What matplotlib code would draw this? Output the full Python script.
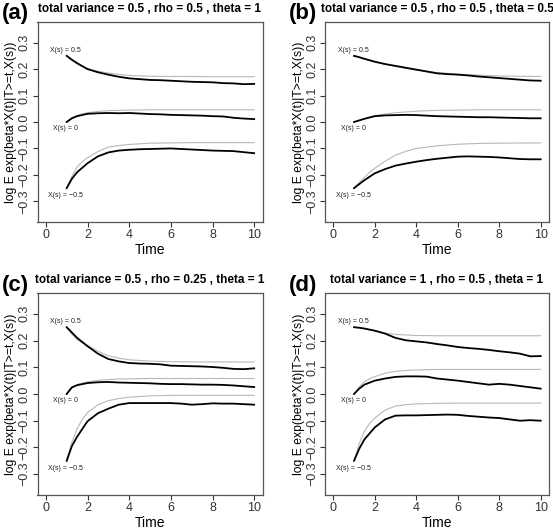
import matplotlib.pyplot as plt
import numpy as np

plt.rcParams['font.family'] = ['Liberation Sans', 'DejaVu Sans']

t_sim = [1, 1.25, 1.5, 2, 2.5, 3, 3.5, 4, 4.5, 5, 5.5, 6, 6.5, 7, 7.5, 8, 8.5, 9, 9.5, 10]
t_th = [1, 1.25, 1.5, 1.75, 2, 2.5, 3, 3.5, 4, 5, 6, 7, 8, 10]

titles = ['total variance = 0.5 , rho = 0.5 , theta = 1',
          'total variance = 0.5 , rho = 0.5 , theta = 0.5',
          'total variance = 0.5 , rho = 0.25 , theta = 1',
          'total variance = 1 , rho = 0.5 , theta = 1']
tags = ['(a)', '(b)', '(c)', '(d)']

# simulated (black) curves, X(s) = 0.5, 0, -0.5
sim_a_hi = [0.25, 0.235, 0.222, 0.200, 0.188, 0.179, 0.171, 0.165, 0.162, 0.159, 0.158, 0.156, 0.154, 0.152, 0.151, 0.150, 0.147, 0.146, 0.143, 0.144]
sim_a_mid = [0.0, 0.014, 0.022, 0.031, 0.033, 0.034, 0.033, 0.034, 0.032, 0.030, 0.029, 0.027, 0.026, 0.025, 0.024, 0.022, 0.021, 0.016, 0.013, 0.011]
sim_a_lo = [-0.25, -0.215, -0.190, -0.156, -0.130, -0.115, -0.108, -0.105, -0.103, -0.102, -0.101, -0.100, -0.102, -0.104, -0.106, -0.108, -0.109, -0.110, -0.114, -0.118]

sim_b_hi = [0.25, 0.245, 0.239, 0.228, 0.219, 0.212, 0.205, 0.198, 0.191, 0.184, 0.181, 0.179, 0.176, 0.172, 0.169, 0.166, 0.163, 0.160, 0.157, 0.156]
sim_b_mid = [0.0, 0.006, 0.012, 0.022, 0.025, 0.026, 0.027, 0.026, 0.024, 0.022, 0.021, 0.020, 0.019, 0.018, 0.018, 0.017, 0.016, 0.015, 0.014, 0.014]
sim_b_lo = [-0.25, -0.235, -0.220, -0.194, -0.178, -0.165, -0.157, -0.150, -0.144, -0.139, -0.135, -0.131, -0.130, -0.131, -0.132, -0.134, -0.137, -0.140, -0.141, -0.141]

sim_c_hi = [0.25, 0.230, 0.210, 0.179, 0.151, 0.131, 0.122, 0.116, 0.114, 0.113, 0.111, 0.106, 0.105, 0.104, 0.103, 0.101, 0.098, 0.094, 0.093, 0.096]
sim_c_mid = [0.0, 0.025, 0.033, 0.041, 0.044, 0.045, 0.043, 0.042, 0.041, 0.040, 0.038, 0.037, 0.037, 0.036, 0.035, 0.035, 0.034, 0.032, 0.029, 0.026]
sim_c_lo = [-0.25, -0.195, -0.160, -0.102, -0.072, -0.055, -0.040, -0.034, -0.034, -0.034, -0.034, -0.034, -0.036, -0.040, -0.038, -0.035, -0.036, -0.036, -0.038, -0.040]

sim_d_hi = [0.25, 0.248, 0.245, 0.237, 0.226, 0.210, 0.201, 0.197, 0.193, 0.187, 0.182, 0.176, 0.172, 0.169, 0.165, 0.160, 0.156, 0.151, 0.141, 0.142]
sim_d_mid = [0.0, 0.020, 0.035, 0.050, 0.058, 0.064, 0.066, 0.066, 0.065, 0.058, 0.054, 0.050, 0.045, 0.040, 0.035, 0.038, 0.035, 0.030, 0.025, 0.020]
sim_d_lo = [-0.25, -0.205, -0.170, -0.125, -0.095, -0.081, -0.080, -0.080, -0.079, -0.078, -0.077, -0.078, -0.082, -0.085, -0.088, -0.090, -0.095, -0.100, -0.098, -0.100]

# theoretical (grey) curves
th_a_hi = [0.25, 0.238, 0.226, 0.212, 0.202, 0.192, 0.185, 0.180, 0.176, 0.173, 0.172, 0.172, 0.171, 0.171]
th_a_mid = [0.0, 0.015, 0.025, 0.031, 0.035, 0.040, 0.043, 0.044, 0.045, 0.046, 0.046, 0.046, 0.046, 0.046]
th_a_lo = [-0.25, -0.205, -0.170, -0.150, -0.135, -0.112, -0.095, -0.089, -0.085, -0.080, -0.079, -0.078, -0.078, -0.078]

th_b_hi = [0.25, 0.244, 0.238, 0.232, 0.226, 0.218, 0.210, 0.203, 0.196, 0.187, 0.181, 0.177, 0.174, 0.172]
th_b_mid = [0.0, 0.007, 0.013, 0.019, 0.024, 0.030, 0.035, 0.038, 0.041, 0.044, 0.045, 0.046, 0.046, 0.046]
th_b_lo = [-0.25, -0.228, -0.210, -0.190, -0.175, -0.148, -0.125, -0.111, -0.100, -0.090, -0.084, -0.081, -0.080, -0.079]

th_c_hi = [0.25, 0.224, 0.204, 0.192, 0.182, 0.160, 0.143, 0.134, 0.128, 0.123, 0.121, 0.120, 0.120, 0.120]
th_c_mid = [0.0, 0.022, 0.035, 0.041, 0.045, 0.051, 0.054, 0.056, 0.057, 0.058, 0.058, 0.058, 0.058, 0.058]
th_c_lo = [-0.25, -0.180, -0.130, -0.095, -0.070, -0.040, -0.025, -0.017, -0.012, -0.007, -0.005, -0.005, -0.005, -0.005]

th_d_hi = [0.25, 0.247, 0.244, 0.240, 0.237, 0.228, 0.223, 0.221, 0.219, 0.218, 0.218, 0.218, 0.218, 0.218]
th_d_mid = [0.0, 0.027, 0.045, 0.057, 0.065, 0.078, 0.085, 0.088, 0.090, 0.092, 0.092, 0.092, 0.092, 0.092]
th_d_lo = [-0.25, -0.185, -0.140, -0.110, -0.090, -0.060, -0.045, -0.040, -0.037, -0.035, -0.034, -0.034, -0.034, -0.034]

sims = [(sim_a_hi, sim_a_mid, sim_a_lo), (sim_b_hi, sim_b_mid, sim_b_lo),
        (sim_c_hi, sim_c_mid, sim_c_lo), (sim_d_hi, sim_d_mid, sim_d_lo)]
ths = [(th_a_hi, th_a_mid, th_a_lo), (th_b_hi, th_b_mid, th_b_lo),
       (th_c_hi, th_c_mid, th_c_lo), (th_d_hi, th_d_mid, th_d_lo)]

curve_labels = ['X(s) = 0.5', 'X(s) = 0', 'X(s) = \u22120.5']
label_y = [0.272, -0.025, -0.277]

ylabel = 'log E exp(beta*X(t)|T>=t,X(s))'

fig = plt.figure(figsize=(5.53, 5.29), dpi=100)

W, H = 553.0, 529.0
boxes = [(37.5, 22, 262.5, 222), (325, 22, 549, 222),
         (37.5, 293, 262.5, 495), (325, 293, 549, 495)]

for k in range(4):
    x0, y0, x1, y1 = boxes[k]
    ax = fig.add_axes([x0 / W, 1 - y1 / H, (x1 - x0) / W, (y1 - y0) / H])

    for th in ths[k]:
        ax.plot(t_th, th, color='#b8b8b8', lw=0.8)
    for s in sims[k]:
        ax.plot(t_sim, s, color='black', lw=1.3)
    for lab, ly in zip(curve_labels, label_y):
        ax.text(0.95, ly, lab, fontsize=5, ha='center', va='center', color='#222222')

    ax.set_xlim(-0.4, 10.4)
    ax.set_ylim(-0.378, 0.378)
    ax.set_xticks([0, 2, 4, 6, 8, 10])
    ax.set_yticks([-0.3, -0.2, -0.1, 0.0, 0.1, 0.2, 0.3])
    ax.set_yticklabels(['\u22120.3', '\u22120.2', '\u22120.1', '0.0', '0.1', '0.2', '0.3'],
                       rotation=90, va='center')
    ax.tick_params(direction='out', length=3.5, width=0.8, labelsize=9, pad=1.5,
                   colors='#333333')
    for sp in ax.spines.values():
        sp.set_color('#555555')
        sp.set_linewidth(0.9)

    ax.set_xlabel('Time', fontsize=10, labelpad=1.5)
    ax.set_ylabel(ylabel, fontsize=8.7, labelpad=1)
    ax.set_title(titles[k], fontsize=8.5, fontweight='bold', pad=7)

    fig.text((x0 - 22) / W, 1 - (y0 - 8) / H, tags[k], fontsize=16, fontweight='bold',
             ha='center', va='center')

fig.savefig('out.png', dpi=100)
